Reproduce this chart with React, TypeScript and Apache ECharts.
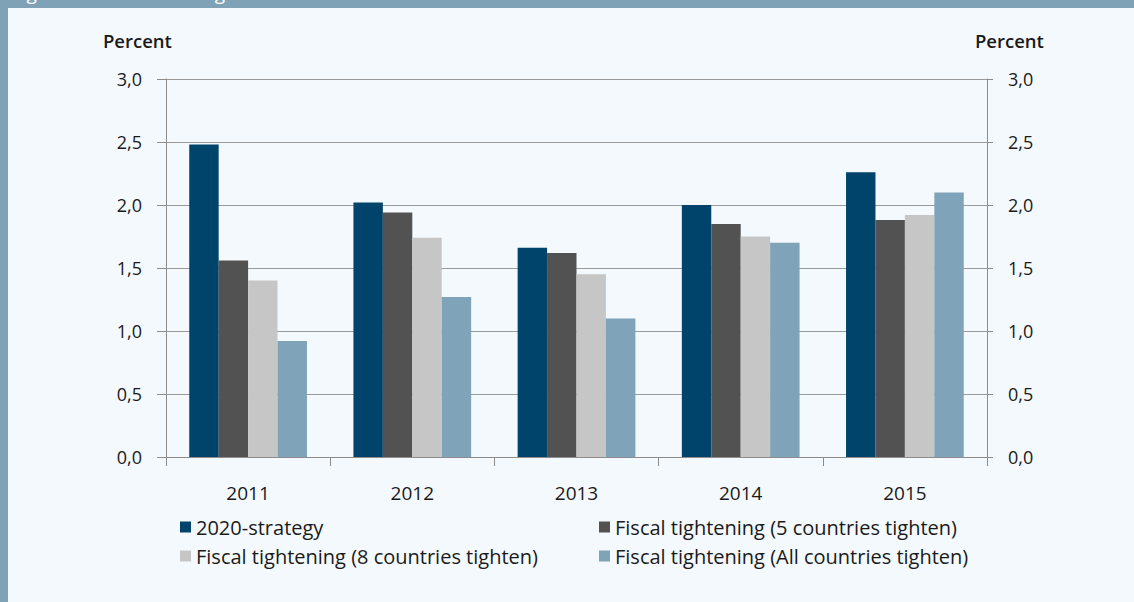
import React, { useEffect, useRef } from "react";
import * as echarts from "echarts";

const years = ["2011", "2012", "2013", "2014", "2015"];
const seriesNames = [
  "2020-strategy",
  "Fiscal tightening (5 countries tighten)",
  "Fiscal tightening (8 countries tighten)",
  "Fiscal tightening (All countries tighten)",
];
const strategy2020 = [2.48, 2.02, 1.66, 2.0, 2.26];
const tighten5 = [1.56, 1.94, 1.62, 1.85, 1.88];
const tighten8 = [1.4, 1.74, 1.45, 1.75, 1.92];
const tightenAll = [0.92, 1.27, 1.1, 1.7, 2.1];
const seriesColors = ["#00446b", "#525252", "#c6c6c6", "#7fa3b8"];
const yTicks = { min: 0, max: 3, interval: 0.5 };
const unitLabel = "Percent";
const titleText = "Figure 4.3 Annual GDP growth in the EU 2020 scenarios";

const FONT = "'Open Sans', sans-serif";
const TEXT = "#1a1a1a";

export default function App() {
  const ref = useRef<HTMLDivElement>(null);
  useEffect(() => {
    if (!ref.current) return;
    const chart = echarts.init(ref.current, undefined, { renderer: "svg" });
    const fmt = (v: number) => v.toFixed(1).replace(".", ",");
    const values = [strategy2020, tighten5, tighten8, tightenAll];
    const yBase = {
      type: "value" as const,
      min: yTicks.min,
      max: yTicks.max,
      interval: yTicks.interval,
      axisLine: { show: true, lineStyle: { color: "#8c8c8c", width: 1 } },
      axisLabel: { color: TEXT, fontSize: 18, fontFamily: FONT, formatter: fmt },
    };
    const legendText = { color: TEXT, fontSize: 20, fontFamily: FONT, lineHeight: 20 };
    chart.setOption({
      animation: false,
      backgroundColor: "#f4f9fd",
      textStyle: { fontFamily: FONT },
      grid: { left: 166, right: 147, top: 79, bottom: 145, containLabel: false },
      xAxis: {
        type: "category",
        data: years,
        axisLine: { show: true, lineStyle: { color: "#8c8c8c", width: 1 } },
        axisTick: { show: true, length: 9, lineStyle: { color: "#8c8c8c" } },
        axisLabel: { color: TEXT, fontSize: 19, fontFamily: FONT, margin: 26 },
        splitLine: { show: false },
      },
      yAxis: [
        {
          ...yBase,
          position: "left",
          axisTick: { show: true, length: 9, lineStyle: { color: "#8c8c8c" } },
          axisLabel: { ...yBase.axisLabel, margin: 24 },
          splitLine: { show: true, lineStyle: { color: "#9a9a9a", width: 1 } },
        },
        {
          ...yBase,
          position: "right",
          axisTick: { show: true, length: 6, lineStyle: { color: "#8c8c8c" } },
          axisLabel: { ...yBase.axisLabel, margin: 21 },
          splitLine: { show: false },
        },
      ],
      legend: [
        {
          left: 175,
          top: 512,
          orient: "vertical",
          itemWidth: 11,
          itemHeight: 11,
          itemGap: 9,
          icon: "rect",
          data: [seriesNames[0], seriesNames[2]],
          textStyle: legendText,
        },
        {
          left: 594,
          top: 512,
          orient: "vertical",
          itemWidth: 11,
          itemHeight: 11,
          itemGap: 9,
          icon: "rect",
          data: [seriesNames[1], seriesNames[3]],
          textStyle: legendText,
        },
      ],
      series: seriesNames.map((name, i) => ({
        name,
        type: "bar",
        yAxisIndex: 0,
        data: values[i],
        barGap: "0%",
        barCategoryGap: "28.3%",
        itemStyle: { color: seriesColors[i] },
      })),
      graphic: [
        { type: "rect", shape: { x: 0, y: 0, width: 1134, height: 8 }, style: { fill: "#7fa2b7" }, silent: true },
        { type: "rect", shape: { x: 0, y: 0, width: 8, height: 602 }, style: { fill: "#7fa2b7" }, silent: true },
        {
          type: "text",
          x: 12,
          y: 2,
          style: { text: titleText, fill: "#ffffff", font: `19px ${FONT}`, textVerticalAlign: "bottom" },
          silent: true,
        },
        {
          type: "text",
          x: 103,
          y: 40,
          style: { text: unitLabel, fill: TEXT, font: `600 18.5px ${FONT}`, textVerticalAlign: "middle" },
        },
        {
          type: "text",
          x: 975,
          y: 40,
          style: { text: unitLabel, fill: TEXT, font: `600 18.5px ${FONT}`, textVerticalAlign: "middle" },
        },
      ],
    });
    return () => chart.dispose();
  }, []);
  return (
    <div
      ref={ref}
      style={{ position: "absolute", left: 0, top: 0, width: 1134, height: 602 }}
    />
  );
}
